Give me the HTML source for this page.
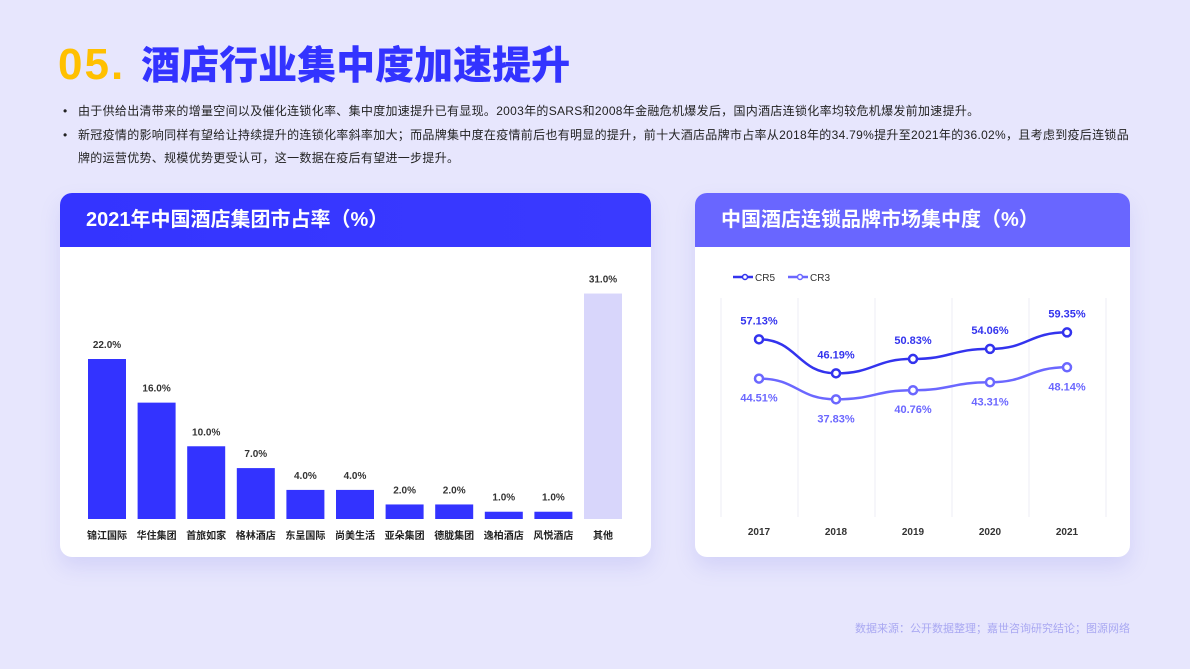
<!DOCTYPE html>
<html><head><meta charset="utf-8">
<style>
*{margin:0;padding:0;box-sizing:border-box}
body{width:1190px;height:669px;background:#e7e6fd;font-family:"Liberation Sans","Noto Sans CJK SC",sans-serif;position:relative;overflow:hidden}
.title{position:absolute;left:58px;top:35px;font-size:39px;font-weight:900;color:#3333ff;white-space:nowrap}
.title span{color:#ffc000;font-size:44px;letter-spacing:2px;margin-right:16px}
.bul{position:absolute;left:78px;font-size:12px;color:#222;line-height:23px;width:1055px;letter-spacing:0.3px}
.bul:before{content:"•";position:absolute;left:-15px}
.card{position:absolute;background:#fff;border-radius:12px;overflow:hidden;box-shadow:0 10px 20px rgba(120,120,230,.18)}
.hd{height:54px;color:#fff;font-weight:bold;font-size:20px;line-height:54px;padding-left:26px;position:relative}
.foot{position:absolute;right:60px;top:620px;font-size:11px;color:#a9a8f2}
svg text{font-family:"Liberation Sans","Noto Sans CJK SC",sans-serif}
</style></head><body>
<div class="title"><span>05.</span>酒店行业集中度加速提升</div>
<div class="bul" style="top:100px">由于供给出清带来的增量空间以及催化连锁化率、集中度加速提升已有显现。2003年的SARS和2008年金融危机爆发后，国内酒店连锁化率均较危机爆发前加速提升。</div>
<div class="bul" style="top:124px">新冠疫情的影响同样有望给让持续提升的连锁化率斜率加大；而品牌集中度在疫情前后也有明显的提升，前十大酒店品牌市占率从2018年的34.79%提升至2021年的36.02%，且考虑到疫后连锁品牌的运营优势、规模优势更受认可，这一数据在疫后有望进一步提升。</div>

<div class="card" style="left:60px;top:193px;width:591px;height:364px">
<div class="hd" style="background:linear-gradient(90deg,#3434ff,#3a3aff)">2021年中国酒店集团市占率（%）</div>
<svg id="bars" width="591" height="310" style="position:absolute;left:0;top:54px"></svg>
</div>

<div class="card" style="left:695px;top:193px;width:435px;height:364px">
<div class="hd" style="background:#6966ff">中国酒店连锁品牌市场集中度（%）</div>
<svg id="lines" width="435" height="310" style="position:absolute;left:0;top:54px"></svg>
</div>
<div class="foot">数据来源：公开数据整理；嘉世咨询研究结论；图源网络</div>

<script>
const barCats=["锦江国际","华住集团","首旅如家","格林酒店","东呈国际","尚美生活","亚朵集团","德胧集团","逸柏酒店","风悦酒店","其他"];
const barVals=[22,16,10,7,4,4,2,2,1,1,31];
const years=["2017","2018","2019","2020","2021"];
const cr5=[57.13,46.19,50.83,54.06,59.35];
const cr3=[44.51,37.83,40.76,43.31,48.14];
const NS="http://www.w3.org/2000/svg";
function mk(svg,tag,attrs,txt){const e=document.createElementNS(NS,tag);for(const k in attrs)e.setAttribute(k,attrs[k]);if(txt!==undefined)e.textContent=txt;svg.appendChild(e);return e;}
const bs=document.getElementById('bars');
const by0=519-247, bk=160/22;
const bx=i=>47+i*49.6;
barCats.forEach((c,i)=>{
 const h=barVals[i]*bk, other=i===barCats.length-1;
 const r=mk(bs,'rect',{x:bx(i)-19,y:by0-h,width:38,height:h,fill:other?'#d8d6fb':'#3333ff'});
 
 
 const t=mk(bs,'text',{x:bx(i),y:by0-h-11,'text-anchor':'middle','font-size':10,'font-weight':'bold',fill:'#333'},barVals[i].toFixed(1)+'%');
 
 
 const l=mk(bs,'text',{x:bx(i),y:by0+20,'text-anchor':'middle','font-size':10,'font-weight':'bold',fill:'#222'},c);
 
 
});
const ls=document.getElementById('lines');
const ox=695, oy=247;
const lx=i=>759+i*77-ox;
const ly=v=>517-v*3.11-oy;
for(let i=0;i<=5;i++){const g=mk(ls,'line',{x1:721+i*77-ox,x2:721+i*77-ox,y1:298-oy,y2:517-oy,stroke:'#eeeef4','stroke-width':1});
 
 }
years.forEach((y,i)=>{const t=mk(ls,'text',{x:lx(i),y:535-oy,'text-anchor':'middle','font-size':10,'font-weight':'bold',fill:'#333'},y);
 
 });
function series(vals,col,name,above){
 let d='';vals.forEach((v,i)=>{const x=lx(i),y=ly(v);if(i===0)d='M'+x+','+y;else{const px=lx(i-1),py=ly(vals[i-1]);const cx=(px+x)/2;d+=' C'+cx+','+py+' '+cx+','+y+' '+x+','+y;}});
 const p=mk(ls,'path',{d:d,fill:'none',stroke:col,'stroke-width':2.5});
 
 
 vals.forEach((v,i)=>{const c=mk(ls,'circle',{cx:lx(i),cy:ly(v),r:4,fill:'#fff',stroke:col,'stroke-width':2.5});
  
  
  const t=mk(ls,'text',{x:lx(i),y:ly(v)+(above?-15:23),'text-anchor':'middle','font-size':11,'font-weight':'bold',fill:col},v.toFixed(2)+'%');
  
  });
}
series(cr5,'#3333ee','cr5',true);
series(cr3,'#6b67ff','cr3',false);
[[ '#3333ee','CR5',733],['#6b67ff','CR3',788]].forEach(([c,n,x])=>{
 const g=mk(ls,'g',{});
 
 
 mk(g,'line',{x1:x-ox,x2:x-ox+20,y1:277-oy,y2:277-oy,stroke:c,'stroke-width':2.5});
 mk(g,'circle',{cx:x-ox+12,cy:277-oy,r:2.5,fill:'#fff',stroke:c,'stroke-width':1.5});
 mk(g,'text',{x:x-ox+22,y:281-oy,'font-size':10,fill:'#333'},n);
});
</script>
</body></html>
